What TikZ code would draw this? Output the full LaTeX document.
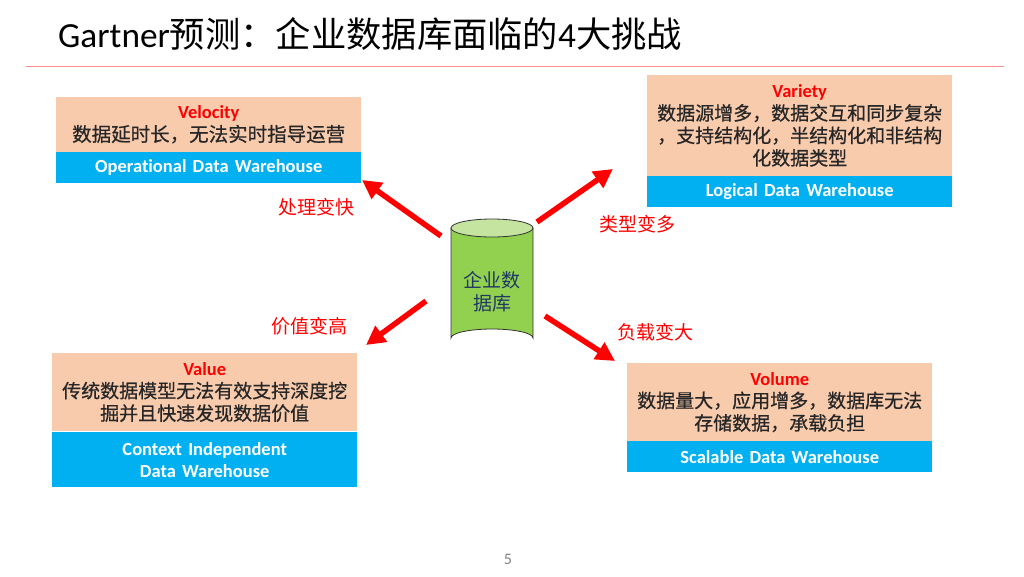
\documentclass[tikz,border=0pt]{standalone}
\usepackage{fontspec}
\setmainfont{Carlito}[Ligatures=NoCommon, WordSpace=0.85]
\newfontfamily\cjk{Noto Sans CJK SC}
\newfontfamily\cjkh{Noto Sans CJK SC}[FakeBold=0.6]
\usetikzlibrary{arrows.meta}
\definecolor{peach}{HTML}{F8CBAD}
\definecolor{skyblue}{HTML}{00B0F0}
\definecolor{cylgreen}{HTML}{92D050}
\definecolor{cyltop}{HTML}{C4E4A0}
\definecolor{rulered}{HTML}{FF8B8B}
\definecolor{dbtextc}{HTML}{1F3864}
\tikzset{
  peachbox/.style={fill=peach, inner sep=0pt, text width=305pt, align=center, anchor=north west,
    font=\cjkh\fontsize{19}{22.5}\selectfont, text=black!85},
  bluebox/.style={fill=skyblue, inner sep=0pt, text width=305pt, align=center, anchor=north west,
    font=\bfseries\fontsize{18.5}{22}\selectfont, text=white},
  bigarrow/.style={draw=red, line width=5.5pt, -{Triangle[length=19pt,width=19pt]}},
  redlabel/.style={text=red, font=\cjk\fontsize{19}{22}\selectfont, inner sep=0pt},
}
\newcommand{\hw}[1]{{\rmfamily\bfseries\fontsize{18.5}{22.5}\selectfont\color{red}#1}}
\begin{document}
\begin{tikzpicture}[x=1pt,y=-1pt]
\useasboundingbox (0,0) rectangle (1024,576);
% title
\node[anchor=west, inner sep=0pt, font=\fontsize{35.3}{38}\selectfont] (title) at (58,34)
  {Gartner{\cjk 预测：企业数据库面临的}4{\cjk 大挑战}};
\coordinate (rl) at (26,66);
\coordinate (rr) at (1004,66);
\draw[rulered, line width=1pt] (rl) -- (rr);
% Velocity
\node[peachbox, minimum height=55pt] (velP) at (56,97)
  {\hw{Velocity}\\ \fontsize{19.5}{22.5}\selectfont 数据延时长，无法实时指导运营};
\node[bluebox, minimum height=31pt] (velB) at (56,152) {Operational Data Warehouse};
% Variety
\node[peachbox, minimum height=101pt] (varP) at (647,75)
  {\hw{Variety}\\ 数据源增多，数据交互和同步复杂\\，支持结构化，半结构化和非结构\\化数据类型};
\node[bluebox, minimum height=31pt] (varB) at (647,176) {Logical Data Warehouse};
% Value
\node[peachbox, minimum height=78pt] (valP) at (52,353)
  {\hw{Value}\\ 传统数据模型无法有效支持深度挖\\掘并且快速发现数据价值};
\node[bluebox, minimum height=55pt] (valB) at (52,432) {Context Independent\\Data Warehouse};
% Volume
\node[peachbox, minimum height=78pt] (volP) at (627,363)
  {\hw{Volume}\\ 数据量大，应用增多，数据库无法\\存储数据，承载负担};
\node[bluebox, minimum height=31pt] (volB) at (627,441) {Scalable Data Warehouse};
% cylinder
\node[minimum width=82pt, minimum height=128pt, inner sep=0pt] (db) at (492,283) {};
\filldraw[fill=cylgreen, draw=black!80, line width=0.8pt]
  (451,228) -- (451,338) arc[start angle=180, end angle=360, x radius=41, y radius=9] -- (533,228) -- cycle;
\filldraw[fill=cyltop, draw=black!80, line width=0.8pt] (492,228) ellipse[x radius=41, y radius=9];
\node[align=center, inner sep=0pt, text=dbtextc, font=\cjk\fontsize{19}{23}\selectfont] (dbt) at (492,291.5) {企业数\\据库};
% arrows
\coordinate (a1s) at (441,236); \coordinate (a1e) at (362,180);
\coordinate (a2s) at (537,222); \coordinate (a2e) at (613,169);
\coordinate (a3s) at (426,301); \coordinate (a3e) at (366,345);
\coordinate (a4s) at (545,316); \coordinate (a4e) at (615,361);
\draw[bigarrow] (a1s) -- (a1e);
\draw[bigarrow] (a2s) -- (a2e);
\draw[bigarrow] (a3s) -- (a3e);
\draw[bigarrow] (a4s) -- (a4e);
\node[redlabel] (l1) at (316,207) {处理变快};
\node[redlabel] (l2) at (637,224) {类型变多};
\node[redlabel] (l3) at (309,326) {价值变高};
\node[redlabel] (l4) at (655,332) {负载变大};
% page number
\node[text=black!50, font=\fontsize{16}{18}\selectfont, inner sep=0pt] (pg) at (508,559) {5};
\end{tikzpicture}
\end{document}
